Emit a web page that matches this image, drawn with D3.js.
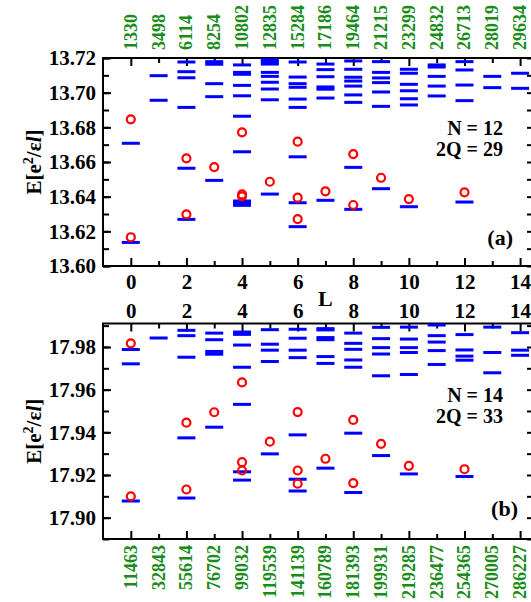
<!DOCTYPE html>
<html>
<head>
<meta charset="utf-8">
<script src="https://cdn.jsdelivr.net/npm/d3@7"></script>
<style>
body { margin: 0; background: #fff; }
text { font-family: "Liberation Serif", "Times New Roman", serif; font-weight: bold; }
</style>
</head>
<body>
<svg id="chart" width="531" height="602"></svg>
<script>
const svg = d3.select("#chart");

// angular momentum values
const Ls = d3.range(0, 15);

// Hilbert space sizes per L (green numbers)
const countsA = [1330, 3498, 6114, 8254, 10802, 12835, 15284, 17186, 19464, 21215, 23299, 24832, 26713, 28019, 29634];
const countsB = [11463, 32843, 55614, 76702, 99032, 119539, 141139, 160789, 181393, 199931, 219285, 236477, 254365, 270005, 286227];

// panel (a): N = 12, 2Q = 29 energy levels per L (blue dashes)
const levelsA = [
    [13.6708, 13.6136],
    [13.7098, 13.6956],
    [13.7177, 13.7121, 13.7086, 13.6915, 13.6564, 13.6269],
    [13.7179, 13.7164, 13.7052, 13.6977, 13.6494],
    [13.7160, 13.7117, 13.7106, 13.7042, 13.6982, 13.6864, 13.6659, 13.6375, 13.6362, 13.6350],
    [13.7190, 13.7179, 13.7165, 13.7117, 13.7094, 13.7060, 13.7021, 13.6959, 13.6415],
    [13.7177, 13.7090, 13.7052, 13.7031, 13.6963, 13.6915, 13.6630, 13.6365, 13.6227],
    [13.7165, 13.7133, 13.7092, 13.7033, 13.7020, 13.6969, 13.6379],
    [13.7183, 13.7135, 13.7089, 13.7067, 13.7038, 13.6987, 13.6944, 13.6569, 13.6327],
    [13.7179, 13.7117, 13.7085, 13.7058, 13.7004, 13.6921, 13.6446],
    [13.7135, 13.7112, 13.7048, 13.7011, 13.6965, 13.6929, 13.6342],
    [13.7160, 13.7148, 13.7094, 13.7038, 13.6981],
    [13.7179, 13.7131, 13.7044, 13.6954, 13.6369],
    [13.7094, 13.7029],
    [13.7112, 13.7025]
];
// panel (a) red circles
const circlesA = [
    [13.6846, 13.6166], [], [13.6621, 13.6298], [13.6571], [13.6771, 13.6413, 13.6402],
    [13.6486], [13.6717, 13.6394, 13.6271], [13.6431], [13.6646, 13.6352], [13.6509],
    [13.6386], [], [13.6425], [], []
];

// panel (b): N = 14, 2Q = 33
const levelsB = [
    [17.9788, 17.9721, 17.9078],
    [17.9842],
    [17.9878, 17.9853, 17.9752, 17.9374, 17.9092],
    [17.9865, 17.9834, 17.9779, 17.9766, 17.9424],
    [17.9870, 17.9859, 17.9809, 17.9705, 17.9531, 17.9215, 17.9176],
    [17.9881, 17.9813, 17.9785, 17.9732, 17.9299],
    [17.9883, 17.9841, 17.9785, 17.9750, 17.9388, 17.9180, 17.9125],
    [17.9886, 17.9880, 17.9844, 17.9834, 17.9755, 17.9723, 17.9232],
    [17.9865, 17.9817, 17.9789, 17.9739, 17.9705, 17.9396, 17.9118],
    [17.9892, 17.9839, 17.9797, 17.9767, 17.9665, 17.9291],
    [17.9893, 17.9837, 17.9797, 17.9774, 17.9671, 17.9205],
    [17.9903, 17.9853, 17.9823, 17.9783, 17.9718],
    [17.9858, 17.9786, 17.9757, 17.9738, 17.9193],
    [17.9893, 17.9774, 17.9679],
    [17.9867, 17.9785, 17.9761]
];
const circlesB = [
    [17.9817, 17.9100], [], [17.9445, 17.9132], [17.9494], [17.9634, 17.9260, 17.9221],
    [17.9356], [17.9495, 17.9221, 17.9159], [17.9276], [17.9458, 17.9162], [17.9346],
    [17.9243], [], [17.9227], [], []
];

const yTicksA = [13.60, 13.62, 13.64, 13.66, 13.68, 13.70, 13.72];
const yTicksB = [17.90, 17.92, 17.94, 17.96, 17.98];

const left = 103, right = 534;
const x = d3.scaleLinear().domain([-1, 14.5]).range([left, right]);
const evenL = Ls.filter(l => l % 2 === 0);
const oddL = Ls.filter(l => l % 2 === 1);

const panels = [
    { levels: levelsA, circles: circlesA, counts: countsA, yTicks: yTicksA, domain: [13.60, 13.72], top: 58, bottom: 266,
      labelSide: "bottom", countsSide: "top", n: "N = 12", q: "2Q = 29", nY: 135, qY: 156, tag: "(a)", tagX: 513, tagY: 245 },
    { levels: levelsB, circles: circlesB, counts: countsB, yTicks: yTicksB, domain: [17.89, 17.991], top: 323.5, bottom: 539,
      labelSide: "top", countsSide: "bottom", n: "N = 14", q: "2Q = 33", nY: 402, qY: 423, tag: "(b)", tagX: 518, tagY: 516 }
];

function styleAxis(g, size) {
    g.select(".domain").remove();
    g.selectAll(".tick line").attr("stroke", "#000").attr("stroke-width", 2);
    g.selectAll(".tick text").attr("font-size", size).attr("fill", "#000")
        .attr("font-family", "Liberation Serif, Times New Roman, serif").attr("font-weight", "bold");
}

function drawPanel(p) {
    const y = d3.scaleLinear().domain(p.domain).range([p.bottom, p.top]);
    const g = svg.append("g");

    // minor y ticks every 0.01
    const minorY = d3.range(Math.ceil(p.domain[0] * 100), Math.floor(p.domain[1] * 100) + 1).map(v => v / 100);

    g.append("g").attr("transform", `translate(${left},0)`)
        .call(d3.axisLeft(y).tickValues(minorY).tickSize(-6).tickFormat(""))
        .call(a => styleAxis(a, 21));
    g.append("g").attr("transform", `translate(${left},0)`)
        .call(d3.axisLeft(y).tickValues(p.yTicks).tickSize(-8).tickPadding(7).tickFormat(d3.format(".2f")))
        .call(a => styleAxis(a, 21));
    g.append("g").attr("transform", `translate(${right},0)`)
        .call(d3.axisRight(y).tickValues(minorY).tickSize(-7).tickFormat(""))
        .call(a => styleAxis(a, 21));

    // L ticks on top and bottom
    [["top", p.top, d3.axisTop], ["bottom", p.bottom, d3.axisBottom]].forEach(([side, pos, axisFn]) => {
        const labelled = side === p.labelSide;
        g.append("g").attr("transform", `translate(0,${pos})`)
            .call(axisFn(x).tickValues(oddL).tickSize(-5).tickFormat(""))
            .call(a => styleAxis(a, 21));
        g.append("g").attr("transform", `translate(0,${pos})`)
            .call(axisFn(x).tickValues(evenL).tickSize(-8).tickPadding(labelled ? (side === "top" ? 6 : 8) : 0)
                .tickFormat(labelled ? d3.format("d") : ""))
            .call(a => styleAxis(a, 21));
    });

    g.append("rect")
        .attr("x", left).attr("y", p.top)
        .attr("width", right - left).attr("height", p.bottom - p.top)
        .attr("fill", "none").attr("stroke", "#000").attr("stroke-width", 2);

    // energy levels
    const dashes = p.levels.flatMap((arr, i) => arr.map(e => ({ L: Ls[i], e })));
    g.selectAll(".level").data(dashes).enter().append("line")
        .attr("class", "level")
        .attr("x1", d => x(d.L) - 9).attr("x2", d => x(d.L) + 9)
        .attr("y1", d => y(d.e)).attr("y2", d => y(d.e))
        .attr("stroke", "#0000ff").attr("stroke-width", 3);

    const pts = p.circles.flatMap((arr, i) => arr.map(e => ({ L: Ls[i], e })));
    g.selectAll(".trial").data(pts).enter().append("circle")
        .attr("class", "trial")
        .attr("cx", d => x(d.L)).attr("cy", d => y(d.e)).attr("r", 4)
        .attr("fill", "none").attr("stroke", "#ff0000").attr("stroke-width", 2.2);

    // dimension counts, rotated
    const top = p.countsSide === "top";
    g.selectAll(".count").data(Ls).enter().append("text")
        .attr("class", "count")
        .attr("transform", l => `translate(${x(l) + 6},${top ? 50 : 545}) rotate(-90)`)
        .attr("text-anchor", top ? "start" : "end")
        .attr("font-size", 18).attr("fill", "#198c19")
        .text(l => p.counts[l]);

    g.append("text").attr("x", 503).attr("y", p.nY).attr("text-anchor", "end").attr("font-size", 20).text(p.n);
    g.append("text").attr("x", 503).attr("y", p.qY).attr("text-anchor", "end").attr("font-size", 20).text(p.q);
    g.append("text").attr("x", p.tagX).attr("y", p.tagY).attr("text-anchor", "end").attr("font-size", 22).text(p.tag);

    const title = g.append("text")
        .attr("transform", `translate(41,${(p.top + p.bottom) / 2}) rotate(-90)`)
        .attr("text-anchor", "middle").attr("font-size", 21);
    title.append("tspan").text("E[e");
    title.append("tspan").attr("dy", -8).attr("font-size", 14).text("2");
    title.append("tspan").attr("dy", 8).text("/ε");
    title.append("tspan").attr("font-style", "italic").text("l");
    title.append("tspan").text("]");
}

panels.forEach(drawPanel);

svg.append("text").attr("x", x(7)).attr("y", 306).attr("text-anchor", "middle").attr("font-size", 22).text("L");
</script>
</body>
</html>
